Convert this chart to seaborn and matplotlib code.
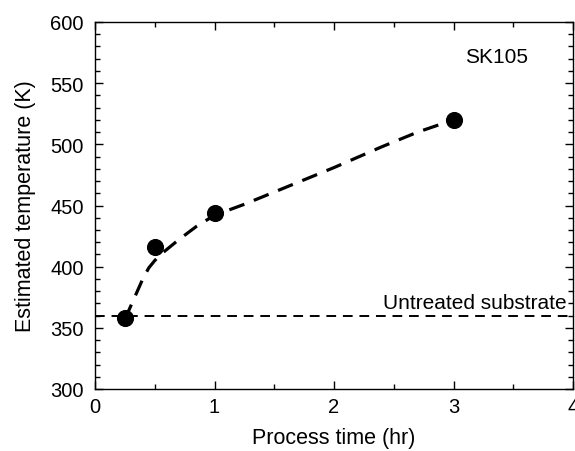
import matplotlib
matplotlib.use("Agg")
import matplotlib.pyplot as plt
from matplotlib.ticker import MultipleLocator
import seaborn as sns
import pandas as pd

# measured points
time_hr = [0.25, 0.5, 1.0, 3.0]
temp_k = [358, 416, 444, 520]

# dashed guide curve
curve_time = [0.25, 0.3, 0.35, 0.4, 0.45, 0.5, 0.55, 0.6, 0.7, 0.85, 1.0, 1.25, 1.5, 1.75, 2.0, 2.4, 2.7, 3.0]
curve_temp = [357, 368, 379, 390, 399, 405, 410, 414, 422, 433, 442, 451, 461, 471, 481, 498, 510, 520]

untreated_temp = 360

sns.set_style("ticks", {'axes.edgecolor': 'black', 'text.color': 'black',
                        'axes.labelcolor': 'black', 'xtick.color': 'black',
                        'ytick.color': 'black'})
plt.rcParams['font.family'] = ['Liberation Sans', 'DejaVu Sans']

fig = plt.figure(figsize=(5.75, 4.52), dpi=100)
ax = fig.add_axes([95 / 575, 1 - 390 / 452, 478 / 575, 367 / 452])

df_pts = pd.DataFrame({'time': time_hr, 'temp': temp_k})
df_curve = pd.DataFrame({'time': curve_time, 'temp': curve_temp})

sns.lineplot(data=df_curve, x='time', y='temp', ax=ax, color='black',
             lw=2.3, sort=False)
ax.lines[-1].set_dashes([5, 3.2])
ax.axhline(untreated_temp, color='black', lw=1.4, ls=(0, (5, 3.5)))
sns.scatterplot(data=df_pts, x='time', y='temp', ax=ax, color='black',
                s=130, edgecolor='black', zorder=3)

ax.text(3.95, 363, 'Untreated substrate', ha='right', va='bottom', fontsize=15)
ax.text(3.36, 572, 'SK105', ha='center', va='center', fontsize=15)

ax.set_xlim(0, 4)
ax.set_ylim(300, 600)
ax.xaxis.set_major_locator(MultipleLocator(1))
ax.xaxis.set_minor_locator(MultipleLocator(0.5))
ax.yaxis.set_major_locator(MultipleLocator(50))
ax.yaxis.set_minor_locator(MultipleLocator(10))
ax.tick_params(which='both', direction='in', top=True, right=True, labelsize=14.5, width=1)
ax.tick_params(which='major', length=6)
ax.tick_params(which='minor', length=3.5)
ax.tick_params(axis='x', which='major', pad=6)
ax.tick_params(axis='y', which='major', pad=8)
for s in ax.spines.values():
    s.set_linewidth(1)
    s.set_visible(True)

ax.set_xlabel('Process time (hr)', fontsize=15.5, labelpad=7.5)
ax.set_ylabel('Estimated temperature (K)', fontsize=15.5, labelpad=10)

fig.savefig('out.png', dpi=100)
